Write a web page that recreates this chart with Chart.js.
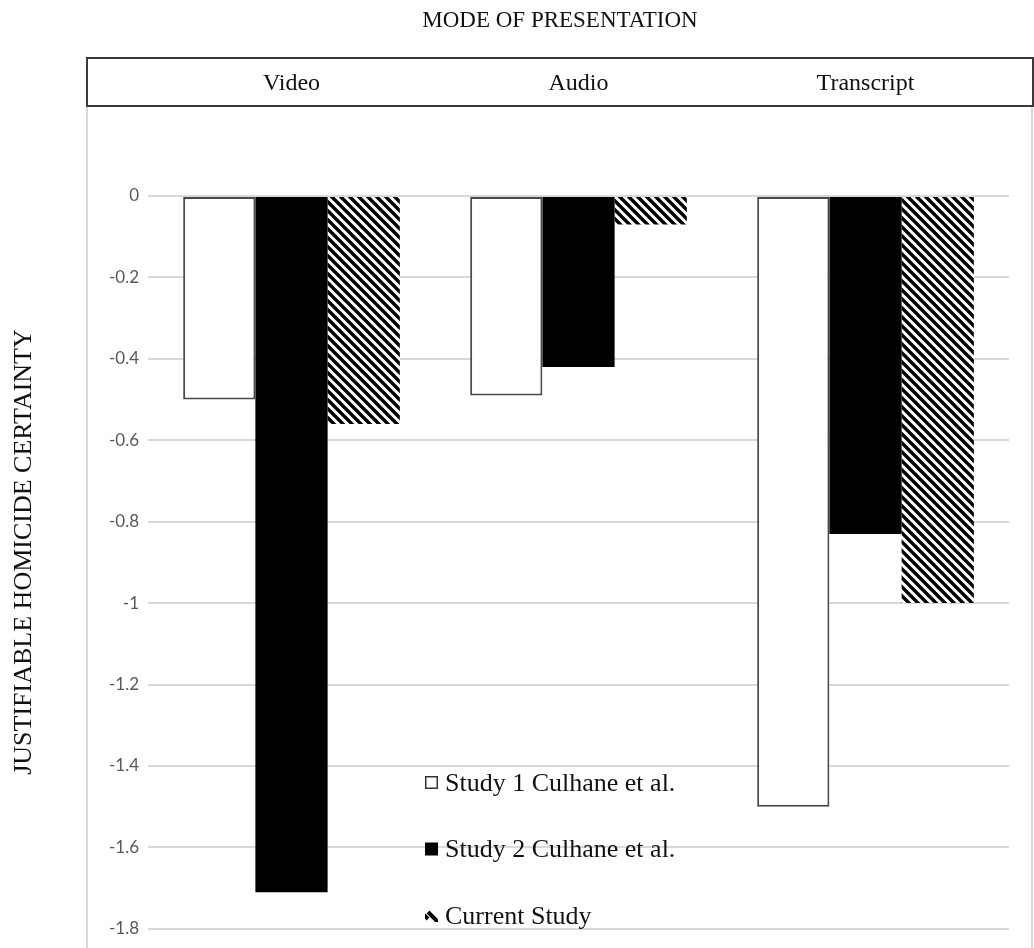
<!DOCTYPE html>
<html><head><meta charset="utf-8">
<script src="https://cdn.jsdelivr.net/npm/chart.js@4/dist/chart.umd.min.js"></script>
<style>html,body{margin:0;padding:0;background:#fff}#wrap{width:1034px;height:948px}</style>
</head><body><div id="wrap"><canvas id="c" width="1034" height="948"></canvas></div>
<script>
const chartTitle = 'MODE OF PRESENTATION';
const yAxisTitle = 'JUSTIFIABLE HOMICIDE CERTAINTY';
const categories = ['Video', 'Audio', 'Transcript'];
const seriesNames = ['Study 1 Culhane et al.', 'Study 2 Culhane et al.', 'Current Study'];
const study1 = [-0.50, -0.49, -1.50];
const study2 = [-1.71, -0.42, -0.83];
const currentStudy = [-0.56, -0.07, -1.00];
const yTickValues = [0, -0.2, -0.4, -0.6, -0.8, -1, -1.2, -1.4, -1.6, -1.8];
const yTickLabels = ['0', '-0.2', '-0.4', '-0.6', '-0.8', '-1', '-1.2', '-1.4', '-1.6', '-1.8'];

const canvas = document.getElementById('c');
const ctx0 = canvas.getContext('2d');

function makeHatch(ctx) {
  const s = 9;
  const c = document.createElement('canvas');
  c.width = s; c.height = s;
  const g = c.getContext('2d');
  g.fillStyle = '#fff'; g.fillRect(0, 0, s, s);
  g.strokeStyle = '#000'; g.lineWidth = 3.4;
  for (const o of [-s, 0, s]) {
    g.beginPath(); g.moveTo(o - 2, -2); g.lineTo(o + s + 2, s + 2); g.stroke();
  }
  return ctx.createPattern(c, 'repeat');
}
const hatch = makeHatch(ctx0);

const SERIF = '"Liberation Serif", "Times New Roman", serif';

const decor = {
  id: 'decor',
  beforeDraw(chart) {
    const ctx = chart.ctx;
    ctx.save();
    ctx.fillStyle = '#fff';
    ctx.fillRect(0, 0, chart.width, chart.height);
    ctx.strokeStyle = '#d9d9d9';
    ctx.lineWidth = 2;
    ctx.beginPath();
    ctx.moveTo(87, 106); ctx.lineTo(87, 948);
    ctx.moveTo(1032, 106); ctx.lineTo(1032, 948);
    ctx.stroke();
    ctx.restore();
  },
  afterDraw(chart) {
    const ctx = chart.ctx;
    const xs = chart.scales.x;
    ctx.save();
    // header box
    ctx.fillStyle = '#fff';
    ctx.fillRect(87, 58, 946, 48);
    ctx.strokeStyle = '#3a3a3a';
    ctx.lineWidth = 2;
    ctx.strokeRect(87, 58, 946, 48);
    ctx.fillStyle = '#111';
    ctx.textAlign = 'center';
    ctx.textBaseline = 'middle';
    ctx.font = '24px ' + SERIF;
    categories.forEach((lab, i) => {
      ctx.fillText(lab, xs.getPixelForValue(i), 84);
    });
    // main title
    ctx.font = '23px ' + SERIF;
    ctx.fillText(chartTitle, 560, 21);
    // y title
    ctx.save();
    ctx.translate(24, 552);
    ctx.rotate(-Math.PI / 2);
    ctx.font = '26px ' + SERIF;
    ctx.fillText(yAxisTitle, 0, 0);
    ctx.restore();
    // legend
    ctx.textAlign = 'left';
    ctx.font = '26px ' + SERIF;
    chart.data.datasets.forEach((ds, i) => {
      const cy = 783 + i * 66.5;
      const mx = 425, my = cy - 7, ms = 13;
      if (i === 0) {
        ctx.fillStyle = '#fff'; ctx.fillRect(mx, my, ms, ms);
        ctx.strokeStyle = '#333'; ctx.lineWidth = 1.5; ctx.strokeRect(mx + 0.75, my + 0.75, ms - 1.5, ms - 1.5);
      } else if (i === 1) {
        ctx.fillStyle = '#000'; ctx.fillRect(mx, my, ms, ms);
      } else {
        ctx.save();
        ctx.beginPath(); ctx.rect(mx, my + 1, ms, ms - 1); ctx.clip();
        ctx.strokeStyle = '#000'; ctx.lineWidth = 4;
        ctx.beginPath(); ctx.moveTo(mx + 3, my + 3); ctx.lineTo(mx + 14, my + 14); ctx.stroke();
        ctx.beginPath(); ctx.moveTo(mx - 2, my + 5); ctx.lineTo(mx + 3, my + 10); ctx.stroke();
        ctx.restore();
      }
      ctx.fillStyle = '#111';
      ctx.fillText(ds.label, 445, cy + 1);
    });
    ctx.restore();
  }
};

new Chart(canvas, {
  type: 'bar',
  data: {
    labels: categories,
    datasets: [
      { label: seriesNames[0], data: study1, backgroundColor: '#ffffff', borderColor: '#4a4a4a', borderWidth: 2, borderSkipped: false },
      { label: seriesNames[1], data: study2, backgroundColor: '#000000', borderColor: '#000000', borderWidth: 0 },
      { label: seriesNames[2], data: currentStudy, backgroundColor: hatch, borderWidth: 0 }
    ]
  },
  options: {
    responsive: false,
    animation: false,
    devicePixelRatio: 1,
    layout: { padding: { left: 86, right: 25, top: 196, bottom: 16 } },
    plugins: { legend: { display: false }, title: { display: false }, tooltip: { enabled: false } },
    datasets: { bar: { categoryPercentage: 0.755, barPercentage: 1.0 } },
    scales: {
      x: { display: false, offset: true },
      y: {
        min: -1.8, max: 0,
        afterBuildTicks(scale) { scale.ticks = yTickValues.map(v => ({ value: v })); },
        afterFit(scale) { scale.width = 62; },
        border: { display: false },
        grid: { color: '#d9d9d9', lineWidth: 2, drawTicks: false },
        ticks: {
          padding: 9,
          color: '#595959',
          font: { family: 'Lato, "Open Sans", sans-serif', size: 17 },
          callback: (v, i) => yTickLabels[i]
        }
      }
    }
  },
  plugins: [decor]
});
</script>
</body></html>
